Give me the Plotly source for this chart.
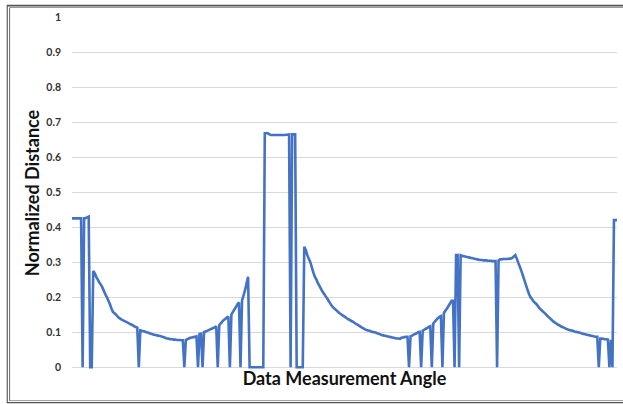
import plotly.graph_objects as go

# Data: normalized distance vs. measurement angle index (0..359)
angles = list(range(360))

distance = [
    # 0-13
    0.425, 0.425, 0.425, 0.425, 0.425, 0.425, 0.425, 0.0, 0.425, 0.426, 0.428, 0.43, 0.0, 0.0,
    # 14-43
    0.275, 0.268, 0.258, 0.25, 0.242, 0.236, 0.228, 0.218, 0.208, 0.2,
    0.19, 0.18, 0.168, 0.158, 0.154, 0.15, 0.145, 0.141, 0.138, 0.135,
    0.133, 0.131, 0.129, 0.127, 0.124, 0.122, 0.12, 0.117, 0.115, 0.113,
    # 44-51
    0.0, 0.105, 0.104, 0.103, 0.102, 0.1, 0.099, 0.097,
    # 52-73
    0.096, 0.094, 0.093, 0.092, 0.091, 0.09, 0.089, 0.088, 0.086, 0.085, 0.083,
    0.082, 0.081, 0.08, 0.08, 0.079, 0.079, 0.078, 0.078, 0.078, 0.077, 0.077,
    # 74-95
    0.0, 0.078, 0.08, 0.082, 0.084, 0.085, 0.086, 0.087, 0.088, 0.0, 0.095,
    0.096, 0.0, 0.1, 0.102, 0.104, 0.106, 0.108, 0.11, 0.112, 0.114, 0.117,
    # 96-116
    0.0, 0.12, 0.125, 0.13, 0.135, 0.138, 0.142, 0.145, 0.0, 0.15, 0.158,
    0.165, 0.172, 0.18, 0.185, 0.0, 0.19, 0.205, 0.22, 0.24, 0.258,
    # 117-126
    0.0, 0.0, 0.0, 0.0, 0.0, 0.0, 0.0, 0.0, 0.0, 0.0,
    # 127-143
    0.668, 0.668, 0.668, 0.665, 0.663, 0.663, 0.663, 0.663, 0.663, 0.663,
    0.663, 0.663, 0.663, 0.663, 0.664, 0.664, 0.665,
    # 144-152
    0.0, 0.665, 0.665, 0.665, 0.0, 0.0, 0.0, 0.0, 0.0,
    # 153-194
    0.344, 0.335, 0.32, 0.31, 0.3, 0.285, 0.27, 0.258, 0.25, 0.24,
    0.232, 0.224, 0.216, 0.21, 0.203, 0.197, 0.19, 0.183, 0.176, 0.171,
    0.167, 0.163, 0.159, 0.155, 0.152, 0.149, 0.146, 0.143, 0.14, 0.137,
    0.135, 0.132, 0.13, 0.127, 0.124, 0.122, 0.119, 0.116, 0.113, 0.111,
    0.108, 0.106,
    # 195-221
    0.105, 0.104, 0.102, 0.101, 0.1, 0.099, 0.097, 0.096, 0.094, 0.092,
    0.091, 0.09, 0.089, 0.088, 0.087, 0.086, 0.085, 0.084, 0.083,
    0.082, 0.082, 0.081, 0.084, 0.085, 0.086, 0.087, 0.087,
    # 222-252
    0.0, 0.088, 0.09, 0.093, 0.095, 0.097, 0.1, 0.101,
    0.0, 0.104, 0.107, 0.11, 0.112, 0.115, 0.117,
    0.0, 0.125, 0.13, 0.135, 0.14, 0.144, 0.146,
    0.0, 0.155, 0.162, 0.168, 0.175, 0.182, 0.19, 0.19, 0.0,
    # 253-258
    0.32, 0.32, 0.0, 0.32, 0.318, 0.317,
    # 259-279
    0.316, 0.315, 0.314, 0.313, 0.312, 0.311, 0.31, 0.309, 0.308, 0.307,
    0.306, 0.306, 0.305, 0.305, 0.305, 0.304, 0.304, 0.304, 0.303, 0.303, 0.303,
    # 280-292
    0.0, 0.305, 0.308, 0.308, 0.309, 0.309, 0.309, 0.309, 0.31, 0.31, 0.312, 0.316, 0.32,
    # 293-328
    0.31, 0.298, 0.287, 0.275, 0.262, 0.249, 0.235, 0.222, 0.21, 0.2,
    0.195, 0.188, 0.184, 0.18, 0.174, 0.168, 0.164, 0.16, 0.156, 0.152,
    0.147, 0.143, 0.139, 0.135, 0.131, 0.128, 0.125, 0.122, 0.12, 0.117,
    0.115, 0.113, 0.111, 0.109, 0.107, 0.106,
    # 329-346
    0.105, 0.104, 0.102, 0.101, 0.1, 0.099, 0.098, 0.096,
    0.095, 0.094, 0.093, 0.092, 0.091, 0.09, 0.089, 0.088, 0.087, 0.087,
    # 347-359
    0.0, 0.082, 0.082, 0.081, 0.08, 0.08, 0.079, 0.0, 0.078, 0.0, 0.42, 0.42, 0.42,
]

y_ticks = [0, 0.1, 0.2, 0.3, 0.4, 0.5, 0.6, 0.7, 0.8, 0.9, 1]
y_tick_text = ["0", "0.1", "0.2", "0.3", "0.4", "0.5", "0.6", "0.7", "0.8", "0.9", "1"]

W, H = 623, 404
ML, MR, MT, MB = 72, 6, 17, 35
PW, PH = W - ML - MR, H - MT - MB


def px(x):
    return (x - ML) / PW


def py(y):
    return (H - MB - y) / PH


fig = go.Figure()
fig.add_trace(go.Scatter(
    x=angles, y=distance, mode="lines",
    line=dict(color="#4472C4", width=2.6, simplify=False),
    hoverinfo="x+y", showlegend=False,
))

frame_color = "#6b6b6b"
shapes = [
    # left double border
    dict(type="line", xref="paper", yref="paper", x0=px(7.3), x1=px(7.3), y0=py(5), y1=py(403),
         line=dict(color=frame_color, width=1.3)),
    dict(type="line", xref="paper", yref="paper", x0=px(9.6), x1=px(9.6), y0=py(7.5), y1=py(401),
         line=dict(color=frame_color, width=1)),
    # top double border
    dict(type="line", xref="paper", yref="paper", x0=px(7), x1=px(640), y0=py(5.6), y1=py(5.6),
         line=dict(color="#555555", width=1.6)),
    dict(type="line", xref="paper", yref="paper", x0=px(9.6), x1=px(640), y0=py(7.5), y1=py(7.5),
         line=dict(color="#9a9a9a", width=1)),
    # bottom double border
    dict(type="line", xref="paper", yref="paper", x0=px(7), x1=px(640), y0=py(402.6), y1=py(402.6),
         line=dict(color="#555555", width=1.3)),
    dict(type="line", xref="paper", yref="paper", x0=px(9.6), x1=px(640), y0=py(400.6), y1=py(400.6),
         line=dict(color="#9a9a9a", width=1)),
]

fig.update_layout(
    width=W, height=H,
    margin=dict(l=ML, r=MR, t=MT, b=MB, pad=0),
    paper_bgcolor="white", plot_bgcolor="white",
    font=dict(family="Lato, 'Liberation Sans', sans-serif", color="#262626"),
    shapes=shapes,
    xaxis=dict(
        range=[0, 359], showgrid=False, zeroline=False, showline=False,
        showticklabels=False, ticks="",
        title=dict(text="<b>Data Measurement Angle</b>", font=dict(size=18, color="#111111"),
                   standoff=3),
    ),
    yaxis=dict(
        range=[-0.005, 1.0], tickmode="array", tickvals=y_ticks,
        ticktext=["<b>%s</b>" % t for t in y_tick_text],
        showgrid=True, gridcolor="#d9d9d9", gridwidth=1, zeroline=False, showline=False,
        ticks="", ticklabelstandoff=10,
        tickfont=dict(size=10.5, color="#333333", family="Lato, 'Liberation Sans', sans-serif"),
        title=dict(text="<b>Normalized Distance</b>", font=dict(size=18, color="#111111"),
                   standoff=2),
    ),
)

fig.write_html("out.html")
